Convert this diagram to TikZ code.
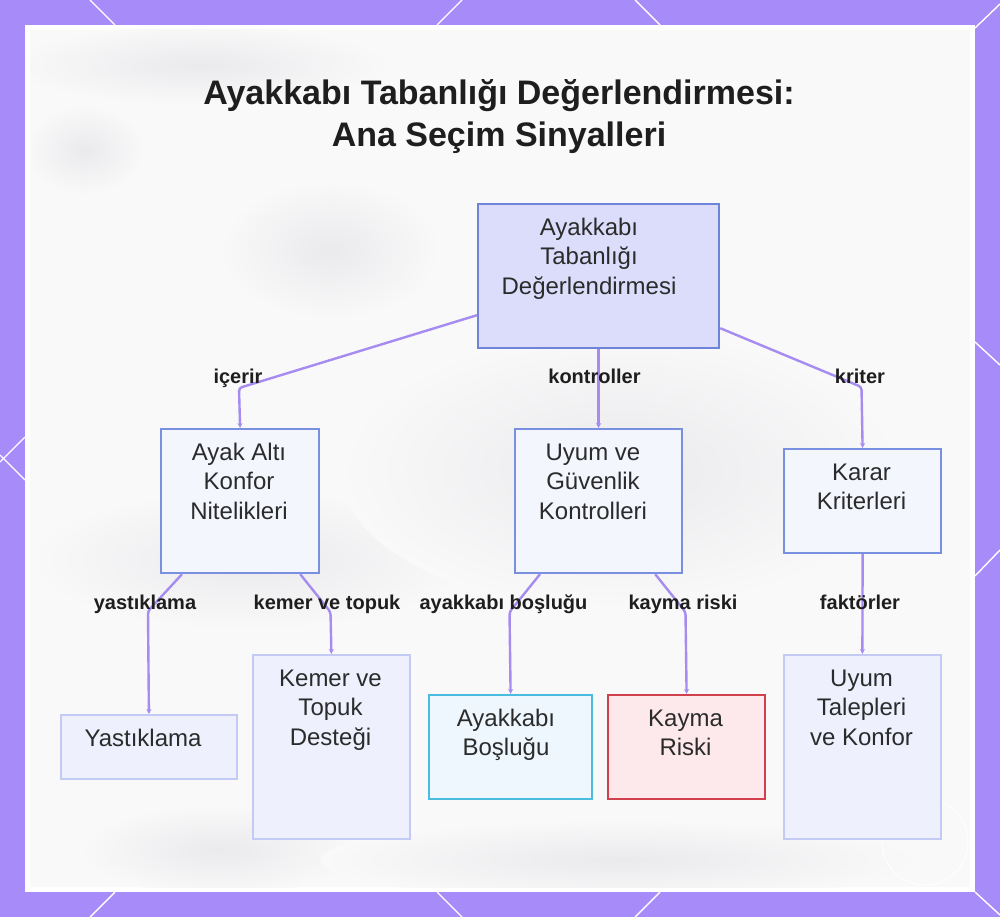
\documentclass[tikz,border=0pt]{standalone}
\usepackage{fontspec}
\setmainfont{Liberation Sans}
\usetikzlibrary{arrows.meta,calc}
\definecolor{framepurple}{HTML}{A78BF9}
\definecolor{panelbg}{HTML}{F9F9FA}
\definecolor{blobgray}{HTML}{EAEAEC}
\definecolor{edgepurple}{HTML}{A68BF0}
\definecolor{rootfill}{HTML}{DCDDFB}
\definecolor{rootdraw}{HTML}{6D84D9}
\definecolor{midfill}{HTML}{F4F6FE}
\definecolor{middraw}{HTML}{7990E0}
\definecolor{leaffill}{HTML}{EEF1FD}
\definecolor{leafdraw}{HTML}{C3CBF5}
\definecolor{cyanfill}{HTML}{EDF7FD}
\definecolor{cyandraw}{HTML}{49BCE0}
\definecolor{redfill}{HTML}{FDE8EC}
\definecolor{reddraw}{HTML}{D0404D}
\definecolor{txtcol}{HTML}{2B2B2B}
\definecolor{lblcol}{HTML}{1E1E1E}
\tikzset{
  boxbase/.style={rectangle, inner sep=0pt, anchor=north west, line width=2.2pt},
  rootbox/.style={boxbase, fill=rootfill, draw=rootdraw},
  midbox/.style={boxbase, fill=midfill, draw=middraw},
  leafbox/.style={boxbase, fill=leaffill, draw=leafdraw, line width=1.8pt},
  cyanbox/.style={boxbase, fill=cyanfill, draw=cyandraw},
  redbox/.style={boxbase, fill=redfill, draw=reddraw},
  nodetext/.style={anchor=north, inner sep=0pt, align=center, text=txtcol,
    font=\fontsize{24}{29.5}\selectfont},
  elabel/.style={anchor=base, inner sep=0pt, text=lblcol,
    font=\bfseries\fontsize{20}{24}\selectfont},
  titletext/.style={anchor=base, inner sep=0pt, text=lblcol,
    font=\bfseries\fontsize{34}{42}\selectfont},
  conn/.style={draw=edgepurple, line width=2.4pt, rounded corners=3pt,
    -{Stealth[length=5pt,width=5pt]}},
  lattice/.style={draw=white, line width=1.4pt}
}
\newcommand{\fs}{\rule{0pt}{22pt}}
\begin{document}
\begin{tikzpicture}[x=1pt,y=-1pt]
\useasboundingbox (0,0) rectangle (1000,917);
% frame
\fill[framepurple] (0,0) rectangle (1000,917);
\draw[lattice] (90,0) -- (115,25);
\draw[lattice] (462,0) -- (437,25);
\draw[lattice] (635,0) -- (660,25);
\draw[lattice] (975,28) -- (1000,4);
\draw[lattice] (975,342) -- (1000,365);
\draw[lattice] (975,576) -- (1000,550);
\draw[lattice] (975,892) -- (1000,915);
\draw[lattice] (115,892) -- (90,917);
\draw[lattice] (437,892) -- (462,917);
\draw[lattice] (660,892) -- (635,917);
\draw[lattice] (25,437) -- (0,462);
\draw[lattice] (0,455) -- (25,480);
% panel
\fill[white] (25,25) rectangle (975,892);
\fill[panelbg] (30,30) rectangle (970,887);
% soft background blobs
\begin{scope}
\clip (30,30) rectangle (970,887);
\shade[inner color=blobgray, outer color=panelbg] (200,65) ellipse (190pt and 40pt);
\shade[inner color=blobgray, outer color=panelbg] (85,150) ellipse (60pt and 45pt);
\shade[inner color=blobgray, outer color=panelbg] (250,560) ellipse (220pt and 70pt);
\shade[inner color=blobgray, outer color=panelbg] (620,470) ellipse (280pt and 140pt);
\shade[inner color=blobgray, outer color=panelbg] (220,850) ellipse (140pt and 45pt);
\shade[inner color=blobgray, outer color=panelbg] (620,860) ellipse (300pt and 40pt);
\shade[inner color=blobgray, outer color=panelbg] (330,250) ellipse (110pt and 70pt);
\end{scope}
\draw[white, line width=1pt, opacity=0.9] (925,842) circle (43pt);
% title
\node[titletext] (title1) at (499,105) {Ayakkabı Tabanlığı Değerlendirmesi:};
\node[titletext] (title2) at (499,147) {Ana Seçim Sinyalleri};
% boxes
\node[rootbox, minimum width=241pt, minimum height=144pt] (root) at (477,203) {};
\node[midbox, minimum width=158pt, minimum height=144pt] (ayak) at (160,428) {};
\node[midbox, minimum width=167pt, minimum height=144pt] (uyum) at (514,428) {};
\node[midbox, minimum width=157pt, minimum height=104pt] (karar) at (783,448) {};
\node[leafbox, minimum width=176pt, minimum height=64pt] (yast) at (60,714) {};
\node[leafbox, minimum width=157pt, minimum height=184pt] (kemer) at (252,654) {};
\node[cyanbox, minimum width=163pt, minimum height=104pt] (bosluk) at (428,694) {};
\node[redbox, minimum width=157pt, minimum height=104pt] (kayma) at (607,694) {};
\node[leafbox, minimum width=157pt, minimum height=184pt] (uyumt) at (783,654) {};
% box texts
\node[nodetext] (rootT) at (589,213) {\fs Ayakkabı\\Tabanlığı\\Değerlendirmesi};
\node[nodetext] (ayakT) at (239,438) {\fs Ayak Altı\\Konfor\\Nitelikleri};
\node[nodetext] (uyumT) at (593,438) {\fs Uyum ve\\Güvenlik\\Kontrolleri};
\node[nodetext] (kararT) at (861.5,458) {\fs Karar\\Kriterleri};
\node[nodetext] (yastT) at (143,724) {\fs Yastıklama};
\node[nodetext] (kemerT) at (330.5,664) {\fs Kemer ve\\Topuk\\Desteği};
\node[nodetext] (boslukT) at (506,704) {\fs Ayakkabı\\Boşluğu};
\node[nodetext] (kaymaT) at (685.5,704) {\fs Kayma\\Riski};
\node[nodetext] (uyumtT) at (861.5,664) {\fs Uyum\\Talepleri\\ve Konfor};
% kink coordinates
\coordinate (k1) at (239,388);
\coordinate (k3) at (861.5,387);
\coordinate (k4) at (148,611);
\coordinate (k5) at (330.5,612);
\coordinate (k6) at (509.5,612);
\coordinate (k7) at (685.5,612);
% connectors
\draw[conn] ($(root.south west)+(0,-34)$) -- (k1) -- (ayak.north);
\draw[conn] (root.south) -- (uyum.north);
\draw[conn] ($(root.south east)+(0,-21)$) -- (k3) -- (karar.north);
\draw[conn] ($(ayak.south west)+(22,0)$) -- (k4) -- (yast.north);
\draw[conn] ($(ayak.south east)+(-20,0)$) -- (k5) -- (kemer.north);
\draw[conn] ($(uyum.south west)+(26,0)$) -- (k6) -- (bosluk.north);
\draw[conn] ($(uyum.south east)+(-28,0)$) -- (k7) -- (kayma.north);
\draw[conn] (karar.south) -- (uyumt.north);
% edge labels
\node[elabel] (l1) at (238,383) {içerir};
\node[elabel] (l2) at (594.5,383) {kontroller};
\node[elabel] (l3) at (860,383) {kriter};
\node[elabel] (l4) at (145,609) {yastıklama};
\node[elabel] (l5) at (327,609) {kemer ve topuk};
\node[elabel] (l6) at (503.5,609) {ayakkabı boşluğu};
\node[elabel] (l7) at (683,609) {kayma riski};
\node[elabel] (l8) at (860,609) {faktörler};
\end{tikzpicture}
\end{document}
